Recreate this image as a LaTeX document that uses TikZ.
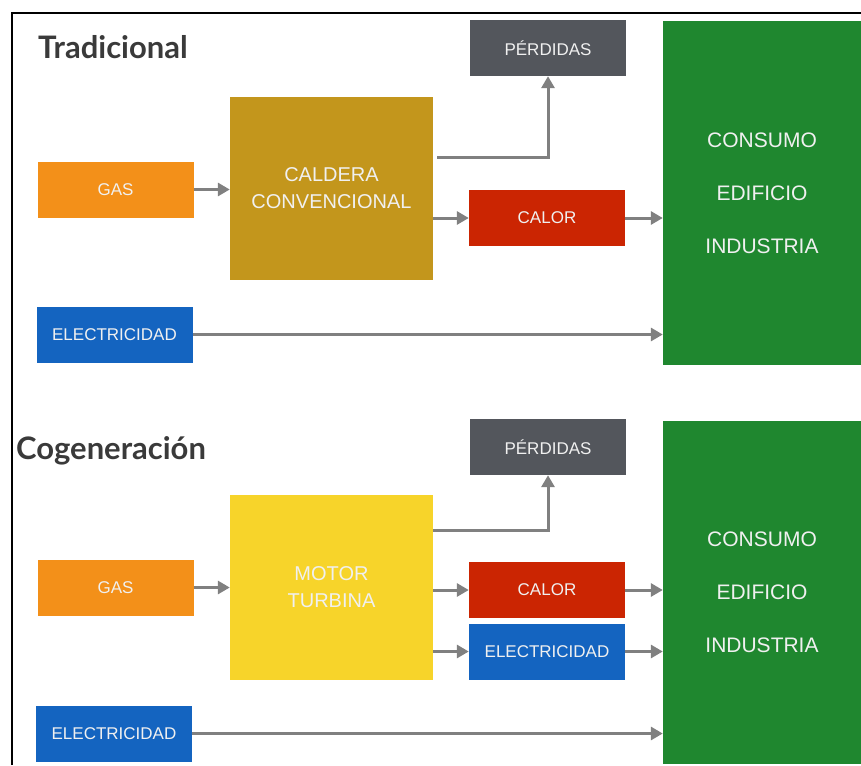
\documentclass[tikz,border=0pt]{standalone}
\usepackage{fontspec}
\setmainfont{Liberation Sans}
\newfontfamily\titlefont{Lato}
\usetikzlibrary{arrows.meta}

\definecolor{perdgray}{HTML}{53565C}
\definecolor{caldgold}{HTML}{C3961C}
\definecolor{gasorange}{HTML}{F39019}
\definecolor{calorred}{HTML}{CB2502}
\definecolor{consgreen}{HTML}{1F872F}
\definecolor{elecblue}{HTML}{1464C0}
\definecolor{motoryellow}{HTML}{F7D42A}
\definecolor{flowgray}{HTML}{808080}
\definecolor{titlegray}{HTML}{3A3A3A}

\begin{document}
\begin{tikzpicture}[x=1pt, y=-1pt,
  box/.style={rectangle, inner sep=0pt, align=center, text=white!94!black,
    font=\fontsize{17}{20}\selectfont, minimum width=156, minimum height=56},
  bigbox/.style={box, font=\fontsize{20}{27}\selectfont, minimum width=203},
  consbox/.style={box, fill=consgreen, font=\fontsize{21}{53}\selectfont,
    minimum width=198, minimum height=343},
  flow/.style={draw=flowgray, line width=3, -{Triangle[length=12, width=13]}},
  title/.style={anchor=base west, inner sep=0pt, text=titlegray, font=\titlefont\bfseries\fontsize{31}{34}\selectfont}]
  \useasboundingbox (0,0) rectangle (861,765);
  \draw[line width=2] (12,765) -- (12,13) -- (861,13);

  % Tradicional
  \node[title] (tit1) at (38,59) {Tradicional};
  \node[box, fill=perdgray] (perd1) at (548,48) {PÉRDIDAS};
  \node[bigbox, fill=caldgold, minimum height=183] (cald) at (331.5,188.5) {CALDERA\\CONVENCIONAL};
  \node[box, fill=gasorange] (gas1) at (115.5,189.5) {GAS};
  \node[box, fill=calorred] (calor1) at (547,218) {CALOR};
  \node[consbox] (cons1) at (762,193) {CONSUMO\\EDIFICIO\\INDUSTRIA};
  \node[box, fill=elecblue] (elec1) at (114.5,334.5) {ELECTRICIDAD};

  \draw[flow] (gas1.east) -- (gas1.east -| cald.west);
  \draw[flow] ([xshift=4, yshift=-61]cald.north east) -| (perd1);
  \draw[flow] (calor1.west -| cald.east) -- (calor1.west);
  \draw[flow] (calor1.east) -- (calor1.east -| cons1.west);
  \draw[flow] (elec1.east) -- (elec1.east -| cons1.west);

  % Cogeneracion
  \node[title] (tit2) at (16,459) {Cogeneración};
  \node[box, fill=perdgray] (perd2) at (548,447) {PÉRDIDAS};
  \node[bigbox, fill=motoryellow, minimum height=185] (motor) at (331.5,587.5) {MOTOR\\TURBINA};
  \node[box, fill=gasorange] (gas2) at (115.5,587.5) {GAS};
  \node[box, fill=calorred] (calor2) at (547,590) {CALOR};
  \node[box, fill=elecblue] (elec2) at (547,651.5) {ELECTRICIDAD};
  \node[consbox] (cons2) at (762,592.5) {CONSUMO\\EDIFICIO\\INDUSTRIA};
  \node[box, fill=elecblue] (elec3) at (114,733.5) {ELECTRICIDAD};

  \draw[flow] (gas2.east) -- (gas2.east -| motor.west);
  \draw[flow] ([yshift=-36]motor.north east) -| (perd2);
  \draw[flow] (calor2.west -| motor.east) -- (calor2.west);
  \draw[flow] (elec2.west -| motor.east) -- (elec2.west);
  \draw[flow] (calor2.east) -- (calor2.east -| cons2.west);
  \draw[flow] (elec2.east) -- (elec2.east -| cons2.west);
  \draw[flow] (elec3.east) -- (elec3.east -| cons2.west);
\end{tikzpicture}
\end{document}
